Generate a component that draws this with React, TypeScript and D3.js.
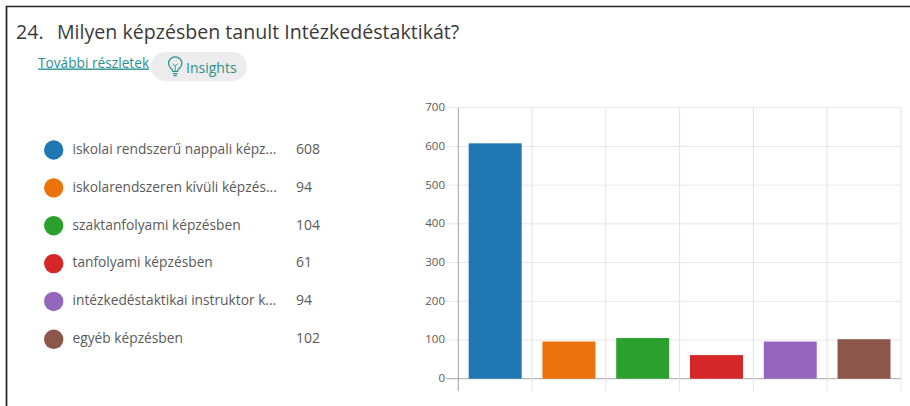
import React from "react";
import * as d3 from "d3";

const categories = [
  "iskolai rendszerű nappali képz...",
  "iskolarendszeren kívüli képzés...",
  "szaktanfolyami képzésben",
  "tanfolyami képzésben",
  "intézkedéstaktikai instruktor k...",
  "egyéb képzésben",
];
const values = [608, 94, 104, 61, 94, 102];
const barValues = [608, 96, 105, 61, 96, 102];
const colors = ["#1f77b4", "#ec730b", "#2ca02c", "#d62728", "#9467bd", "#8c564b"];
const yTicks = [0, 100, 200, 300, 400, 500, 600, 700];

const FONT = "'Open Sans', 'Noto Sans', sans-serif";
const TEXT = "#5a5a5a";

export default function App() {
  const y = d3.scaleLinear().domain([0, 700]).range([378.7, 107.7]);
  const x = d3
    .scaleBand<number>()
    .domain(d3.range(categories.length))
    .range([458.3, 900.9])
    .paddingInner(0)
    .paddingOuter(0);
  const bw = x.bandwidth();
  const gridX = d3.range(categories.length).map((i) => x(i)! + bw);
  const legendY = d3.scalePoint<number>().domain(d3.range(categories.length)).range([150, 339.3]);

  return (
    <svg
      width={910}
      height={406}
      style={{ position: "absolute", left: 0, top: 0, display: "block", background: "#fff" }}
    >
      <path d="M6.5 406V6.500H910" fill="none" stroke="#222" strokeWidth={1.7} />

      <text x={16} y={39} fontFamily={FONT} fontSize={19.6} fill="#3a3a3a">
        24.
      </text>
      <text x={57} y={39} fontFamily={FONT} fontSize={19.6} fill="#3a3a3a">
        Milyen képzésben tanult Intézkedéstaktikát?
      </text>
      <text x={38} y={67.5} fontFamily={FONT} fontSize={13.7} fill="#2a8f8f" textDecoration="underline">
        További részletek
      </text>
      <rect x={151} y={52} width={96} height={29} rx={14.5} fill="#ececec" />
      <g fill="none" stroke="#2a8f8f" strokeWidth={1.2}>
        <path d="M172.800 71.500c0-2.800-4.300-4-4.300-8a6.700 6.700 0 1 1 13.400 0c0 4-4.300 5.200-4.300 8z" />
        <path d="M172.900 73.700h4.600M173.600 75.700h3.200" />
        <path d="M175.200 71.500v-5.500l-2.300-2.300M175.200 66l2.300-2.300" strokeWidth={0.9} />
      </g>
      <text x={186} y={73} fontFamily={FONT} fontSize={14} fill="#2a8f8f">
        Insights
      </text>

      {categories.map((c, i) => (
        <g key={c}>
          <circle cx={53.7} cy={legendY(i)} r={9.7} fill={colors[i]} />
          <text x={72.5} y={legendY(i)! + 3.8} fontFamily={FONT} fontSize={13.75} fill={TEXT}>
            {c}
          </text>
          <text x={296} y={legendY(i)! + 3.8} fontFamily={FONT} fontSize={14} fill={TEXT}>
            {values[i]}
          </text>
        </g>
      ))}

      {yTicks.map((t) => (
        <line
          key={t}
          x1={446}
          x2={900.9}
          y1={y(t)}
          y2={y(t)}
          stroke={t === 0 ? "#a8a8a8" : "#e6e6e6"}
          strokeWidth={1}
        />
      ))}
      {gridX.map((gx, i) => (
        <line key={i} x1={gx} x2={gx} y1={107.7} y2={391} stroke="#e2e2e2" strokeWidth={1} />
      ))}
      <line x1={458.3} x2={458.3} y1={107.7} y2={391} stroke="#a0a0a0" strokeWidth={1} />

      {yTicks.map((t) => (
        <text
          key={t}
          x={445}
          y={y(t) + 3.5}
          textAnchor="end"
          fontFamily={FONT}
          fontSize={11.5}
          fill={TEXT}
        >
          {t}
        </text>
      ))}

      {barValues.map((v, i) => (
        <rect
          key={i}
          x={x(i)! + (bw - 53) / 2}
          y={y(v)}
          width={53}
          height={y(0) - y(v)}
          fill={colors[i]}
        />
      ))}
    </svg>
  );
}
